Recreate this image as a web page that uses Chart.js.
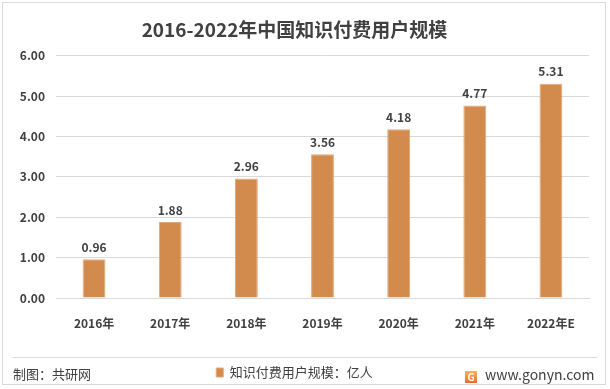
<!DOCTYPE html>
<html>
<head>
<meta charset="utf-8">
<script src="https://cdn.jsdelivr.net/npm/chart.js"></script>
<style>
  body { margin: 0; background: #fff; font-family: "Noto Sans CJK SC", sans-serif; }
  #wrap { position: relative; width: 610px; height: 389px; }
  #frame { position: absolute; left: 2px; top: 2px; width: 602px; height: 381px; border: 1px solid #d9d9d9; }
  #sep { position: absolute; left: 13px; top: 357px; width: 584px; height: 1px; background: #d9d9d9; }
  .foot { position: absolute; top: 364px; font-size: 13px; color: #404040; line-height: 20px; }
  #logo { display: inline-block; width: 12px; height: 12px; background: linear-gradient(#f7b267, #ee6a2c); color: #fff; font-size: 10px; line-height: 12px; text-align: center; font-weight: bold; margin-right: 8px; vertical-align: -1px; }
  canvas { position: absolute; left: 0; top: 0; }
</style>
</head>
<body>
<div id="wrap">
  <div id="frame"></div>
  <canvas id="c" width="610" height="389"></canvas>
  <div id="sep"></div>
  <div class="foot" style="left:13px;">制图：共研网</div>
  <div class="foot" style="left:465px;font-size:14px;"><span id="logo">G</span>www.gonyn.com</div>
</div>
<script>
// 数据
const years = ['2016年', '2017年', '2018年', '2019年', '2020年', '2021年', '2022年E'];
const users = [0.96, 1.88, 2.96, 3.56, 4.18, 4.77, 5.31];
const yTicks = [0, 1, 2, 3, 4, 5, 6];

// 柱顶数值
const barLabels = {
  id: 'barLabels',
  afterDatasetsDraw(chart) {
    const ctx = chart.ctx;
    ctx.save();
    ctx.font = 'bold 12px "Noto Sans CJK SC"';
    ctx.fillStyle = '#404040';
    ctx.textAlign = 'center';
    ctx.textBaseline = 'bottom';
    chart.getDatasetMeta(0).data.forEach((bar, i) => {
      ctx.fillText(users[i].toFixed(2), bar.x, bar.y - 6);
    });
    ctx.restore();
  }
};

new Chart(document.getElementById('c'), {
  type: 'bar',
  data: {
    labels: years,
    datasets: [{
      label: '知识付费用户规模：亿人',
      data: users,
      backgroundColor: '#d38b4d',
      borderColor: '#e0a878',
      borderWidth: 1,
      barPercentage: 0.3,
      categoryPercentage: 1
    }]
  },
  options: {
    responsive: false,
    animation: false,
    layout: { padding: { left: 0, right: 21, top: 0, bottom: 0 } },
    plugins: {
      title: {
        display: true,
        text: '2016-2022年中国知识付费用户规模',
        color: '#404040',
        font: { family: '"Noto Sans CJK SC"', size: 19, weight: 'bold' },
        padding: { top: 18, bottom: 15 }
      },
      legend: {
        position: 'bottom',
        labels: {
          boxWidth: 7, boxHeight: 9,
          color: '#404040',
          padding: 3,
          font: { family: '"Noto Sans CJK SC"', size: 13 }
        }
      },
      tooltip: { enabled: false }
    },
    scales: {
      x: {
        grid: { display: false },
        border: { color: '#d9d9d9' },
        ticks: { color: '#404040', padding: 10, font: { family: '"Noto Sans CJK SC"', size: 12, weight: 'bold' } },
        afterFit(s) { s.height = 65; }
      },
      y: {
        min: 0, max: 6,
        afterBuildTicks(s) { s.ticks = yTicks.map(v => ({ value: v })); },
        grid: { color: '#d9d9d9', drawTicks: false },
        border: { display: false },
        ticks: {
          color: '#404040', padding: 11,
          font: { family: '"Noto Sans CJK SC"', size: 12, weight: 'bold' },
          callback: v => v.toFixed(2)
        },
        afterFit(s) { s.width = 56; }
      }
    }
  },
  plugins: [barLabels]
});
</script>
</body>
</html>
